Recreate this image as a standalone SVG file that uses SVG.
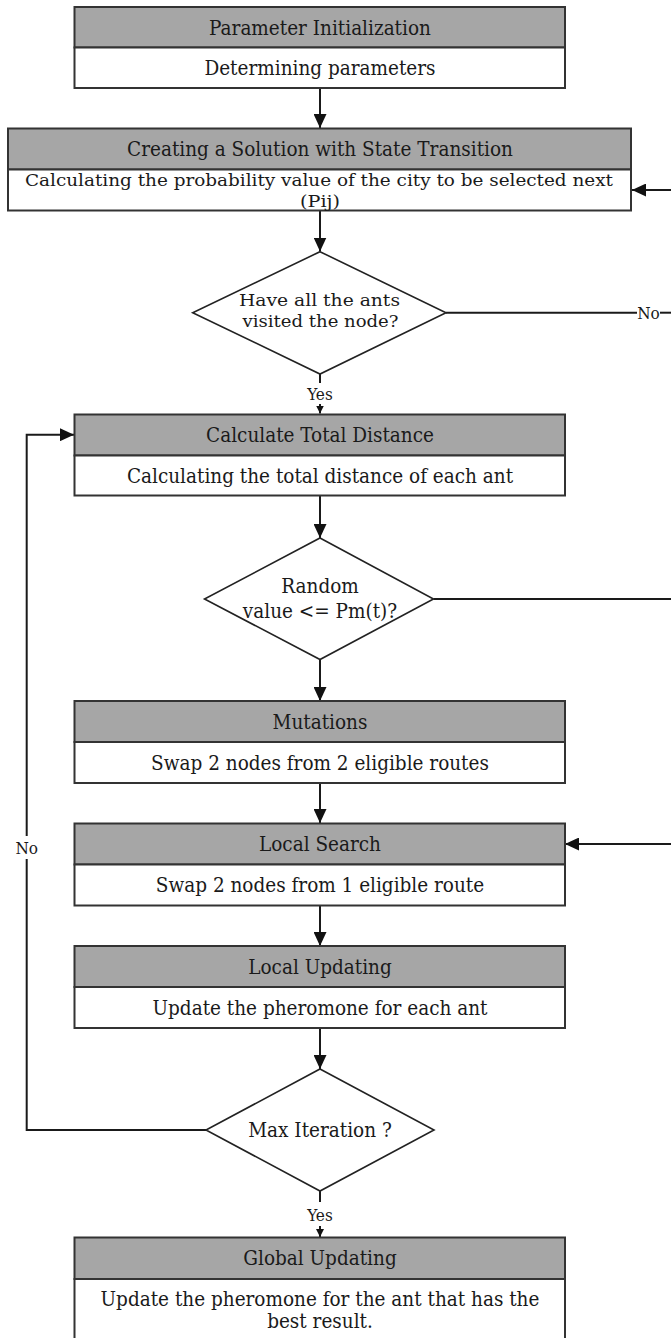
<svg xmlns="http://www.w3.org/2000/svg" width="671" height="1338" viewBox="0 0 671 1338">
  <style>
    .hdr { fill: #a6a6a6; stroke: #333333; stroke-width: 2; }
    .body { fill: #ffffff; stroke: #333333; stroke-width: 2; }
    .dia { fill: #ffffff; stroke: #222222; stroke-width: 1.6; }
    .t { font-family: "DejaVu Serif Condensed", "DejaVu Serif", serif; font-size: 20.5px; fill: #1a1a1a; text-anchor: middle; dominant-baseline: central; }
    .t2 { font-family: "DejaVu Serif Condensed", "DejaVu Serif", serif; font-size: 17.5px; fill: #1a1a1a; text-anchor: middle; dominant-baseline: central; }
    .lbl { font-family: "DejaVu Serif Condensed", "DejaVu Serif", serif; font-size: 17px; fill: #1a1a1a; text-anchor: middle; dominant-baseline: central; }
    .c { fill: none; stroke: #1a1a1a; stroke-width: 2; }
  </style>
  <defs>
    <marker id="arr" viewBox="0 0 14 13" markerWidth="14" markerHeight="13" refX="14" refY="6.5" orient="auto" markerUnits="userSpaceOnUse">
      <path d="M0,0 L14,6.5 L0,13 z" fill="#111111"/>
    </marker>
    <marker id="arrS" viewBox="0 0 8 8" markerWidth="8" markerHeight="8" refX="8" refY="4" orient="auto" markerUnits="userSpaceOnUse">
      <path d="M0,0 L8,4 L0,8 z" fill="#111111"/>
    </marker>
  </defs>

  <rect width="671" height="1338" fill="#ffffff"/>

  <g id="connectors">
    <path class="c" d="M320,88 L320,128" marker-end="url(#arr)"/>
    <path class="c" d="M671,190 L632,190" marker-end="url(#arr)"/>
    <path class="c" d="M320,211 L320,251.5" marker-end="url(#arr)"/>
    <path class="c" d="M446,312.7 L637,312.7"/>
    <path class="c" d="M660,312.7 L671,312.7"/>
    <text class="lbl" x="648.5" y="312.7">No</text>
    <path class="c" d="M320,374 L320,383"/>
    <text class="lbl" x="320" y="393.5">Yes</text>
    <path class="c" d="M320,404 L320,413.5" marker-end="url(#arrS)"/>
    <path class="c" d="M206,1130 L26.7,1130 L26.7,859"/>
    <text class="lbl" x="26.7" y="847.5">No</text>
    <path class="c" d="M26.7,836 L26.7,434.7 L74,434.7" marker-end="url(#arr)"/>
    <path class="c" d="M320,495 L320,538" marker-end="url(#arr)"/>
    <path class="c" d="M433.5,599 L671,599"/>
    <path class="c" d="M320,659.5 L320,701" marker-end="url(#arr)"/>
    <path class="c" d="M320,783 L320,823" marker-end="url(#arr)"/>
    <path class="c" d="M671,844 L565,844" marker-end="url(#arr)"/>
    <path class="c" d="M320,905.5 L320,946" marker-end="url(#arr)"/>
    <path class="c" d="M320,1028 L320,1069" marker-end="url(#arr)"/>
    <path class="c" d="M320,1191 L320,1202"/>
    <text class="lbl" x="320" y="1214.5">Yes</text>
    <path class="c" d="M320,1226 L320,1237" marker-end="url(#arrS)"/>
  </g>

  <g id="node-param-init">
    <rect class="hdr" x="74.5" y="7" width="490.5" height="40.5"/>
    <rect class="body" x="74.5" y="47.5" width="490.5" height="40.5"/>
    <text class="t" x="320" y="27.5">Parameter Initialization</text>
    <text class="t" x="320" y="67.5">Determining parameters</text>
  </g>

  <g id="node-state-transition">
    <rect class="hdr" x="8" y="128.5" width="623" height="41"/>
    <rect class="body" x="8" y="169.5" width="623" height="41"/>
    <text class="t" x="320" y="149">Creating a Solution with State Transition</text>
    <text class="t2" x="319" y="180" textLength="588" lengthAdjust="spacingAndGlyphs">Calculating the probability value of the city to be selected next</text>
    <text class="t2" x="320" y="200.5" textLength="40" lengthAdjust="spacingAndGlyphs">(Pij)</text>
  </g>

  <g id="node-all-visited">
    <polygon class="dia" points="320,251.7 446,312.7 320,374 192.7,312.7"/>
    <text class="t2" x="319.5" y="299.5" textLength="161" lengthAdjust="spacingAndGlyphs">Have all the ants</text>
    <text class="t2" x="320.5" y="321" textLength="156" lengthAdjust="spacingAndGlyphs">visited the node?</text>
  </g>

  <g id="node-total-distance">
    <rect class="hdr" x="74.5" y="414.5" width="490.5" height="41"/>
    <rect class="body" x="74.5" y="455.5" width="490.5" height="40"/>
    <text class="t" x="320" y="435">Calculate Total Distance</text>
    <text class="t" x="320" y="475.5">Calculating the total distance of each ant</text>
  </g>

  <g id="node-random">
    <polygon class="dia" points="320,538 433.5,599 320,659.5 204.5,599"/>
    <text class="t" x="320" y="586">Random</text>
    <text class="t" x="320" y="611">value &lt;= Pm(t)?</text>
  </g>

  <g id="node-mutations">
    <rect class="hdr" x="74.5" y="701" width="490.5" height="41"/>
    <rect class="body" x="74.5" y="742" width="490.5" height="41"/>
    <text class="t" x="320" y="721.5">Mutations</text>
    <text class="t" x="320" y="762.5">Swap 2 nodes from 2 eligible routes</text>
  </g>

  <g id="node-local-search">
    <rect class="hdr" x="74.5" y="823.5" width="490.5" height="41"/>
    <rect class="body" x="74.5" y="864.5" width="490.5" height="41"/>
    <text class="t" x="320" y="844">Local Search</text>
    <text class="t" x="320" y="884.5">Swap 2 nodes from 1 eligible route</text>
  </g>

  <g id="node-local-updating">
    <rect class="hdr" x="74.5" y="946" width="490.5" height="41"/>
    <rect class="body" x="74.5" y="987" width="490.5" height="41"/>
    <text class="t" x="320" y="966.5">Local Updating</text>
    <text class="t" x="320" y="1007.5">Update the pheromone for each ant</text>
  </g>

  <g id="node-max-iteration">
    <polygon class="dia" points="320,1069 434,1130 320,1191 206,1130"/>
    <text class="t" x="320" y="1130">Max Iteration ?</text>
  </g>

  <g id="node-global-updating">
    <rect class="hdr" x="74.5" y="1237.5" width="490.5" height="41.5"/>
    <rect class="body" x="74.5" y="1279" width="490.5" height="60"/>
    <text class="t" x="320" y="1258">Global Updating</text>
    <text class="t" x="320" y="1298.5">Update the pheromone for the ant that has the</text>
    <text class="t" x="320" y="1321">best result.</text>
  </g>
</svg>
